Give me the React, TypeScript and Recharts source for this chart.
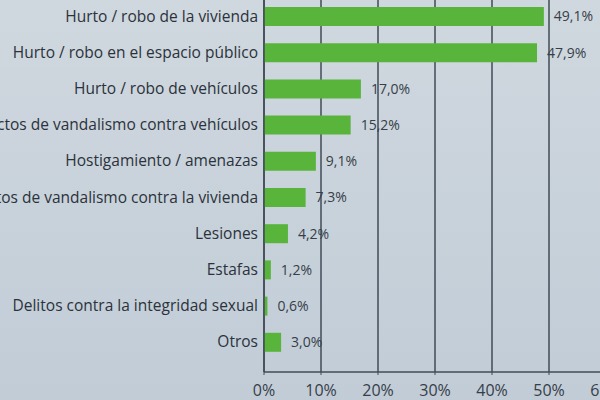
import { BarChart, Bar, XAxis, YAxis, CartesianGrid, LabelList } from 'recharts'

const categories = [
  'Hurto / robo de la vivienda',
  'Hurto / robo en el espacio público',
  'Hurto / robo de vehículos',
  'Actos de vandalismo contra vehículos',
  'Hostigamiento / amenazas',
  'Actos de vandalismo contra la vivienda',
  'Lesiones',
  'Estafas',
  'Delitos contra la integridad sexual',
  'Otros',
]
const values = [49.1, 47.9, 17.0, 15.2, 9.1, 7.3, 4.2, 1.2, 0.6, 3.0]
const xTicks = [0, 10, 20, 30, 40, 50, 60]

const data = categories.map((name, i) => ({ name, value: values[i] }))

const pct = (v: number) => `${v.toFixed(1).replace('.', ',')}%`

export default function App() {
  return (
    <div
      style={{
        position: 'fixed',
        left: 0,
        top: 0,
        width: 600,
        height: 400,
        overflow: 'hidden',
        background: 'linear-gradient(180deg, #d0d8df 0%, #c7d1da 60%, #c1ccd7 100%)',
        fontFamily: '"Open Sans", sans-serif',
      }}
    >
      <div style={{ position: 'absolute', left: -40, top: -10 }}>
        <BarChart
          width={686}
          height={412}
          data={data}
          layout="vertical"
          margin={{ top: 8, right: 40, bottom: 0, left: 0 }}
        >
          <CartesianGrid horizontal={false} stroke="#404b57" strokeWidth={1.5} />
          <XAxis
            type="number"
            domain={[0, 60]}
            ticks={xTicks}
            tickFormatter={(v) => `${v}%`}
            axisLine={{ stroke: '#404b57', strokeWidth: 1.5 }}
            tickLine={{ stroke: '#404b57' }}
            tickSize={3}
            tickMargin={10}
            height={30}
            tick={{ fill: '#363e48', fontSize: 16 }}
          />
          <YAxis
            type="category"
            dataKey="name"
            width={304}
            padding={{ top: 0, bottom: 12 }}
            axisLine={{ stroke: '#404b57', strokeWidth: 1.5 }}
            tickLine={false}
            tickSize={2}
            tickMargin={4}
            tick={{ fill: '#2b323b', fontSize: 15.5 }}
          />
          <Bar dataKey="value" fill="#58b43a" barSize={19} isAnimationActive={false}>
            <LabelList
              dataKey="value"
              position="right"
              offset={10}
              formatter={(v: number) => pct(v)}
              style={{ fill: '#363e48', fontSize: 14 }}
            />
          </Bar>
        </BarChart>
      </div>
    </div>
  )
}
